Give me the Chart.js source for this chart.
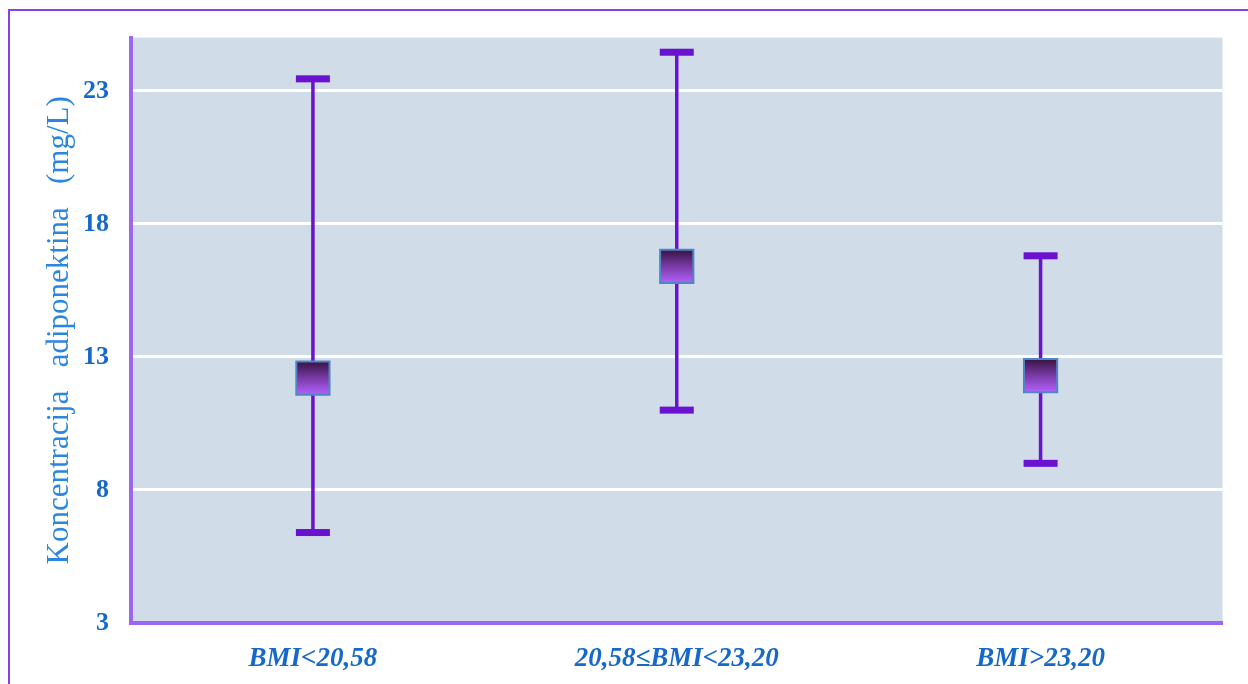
<!DOCTYPE html>
<html><head><meta charset="utf-8">
<script src="https://cdn.jsdelivr.net/npm/chart.js@4"></script>
<style>
html,body{margin:0;padding:0;background:#fff;width:1248px;height:684px;overflow:hidden;}
#frame{position:absolute;left:8px;top:9px;width:1300px;height:700px;border-top:2px solid #8a3ee6;border-left:2px solid #8a3ee6;}
#wrap{position:absolute;left:0;top:0;width:1248px;height:684px;}
</style></head>
<body>
<div id="frame"></div>
<div id="wrap"><canvas id="c" width="1248" height="684"></canvas></div>
<script>
const categories = ["BMI<20,58", "20,58\u2264BMI<23,20", "BMI>23,20"];
const means = [12.2, 16.4, 12.3];
const lowerValues = [6.4, 11.0, 9.0];
const upperValues = [23.45, 24.45, 16.8];
const yTicks = [3, 8, 13, 18, 23];
const yTitle = "Koncentracija   adiponektina   (mg/L)";

const textBlue = "#1668c9";
const errColor = "#6a12d0";

const bgPlugin = {
  id: 'bg',
  beforeDraw(chart) {
    const {ctx, chartArea: a} = chart;
    ctx.save();
    ctx.fillStyle = '#d0dce7';
    ctx.fillRect(a.left, a.top, a.right - a.left, a.bottom - a.top);
    ctx.restore();
  }
};

const errPlugin = {
  id: 'err',
  beforeDatasetsDraw(chart) {
    const {ctx} = chart;
    const xs = chart.scales.x, ys = chart.scales.y;
    ctx.save();
    ctx.strokeStyle = errColor;
    ctx.fillStyle = errColor;
    for (let i = 0; i < categories.length; i++) {
      const x = xs.getPixelForValue(i);
      const yl = ys.getPixelForValue(lowerValues[i]);
      const yu = ys.getPixelForValue(upperValues[i]);
      ctx.lineWidth = 3.5;
      ctx.beginPath(); ctx.moveTo(x, yl); ctx.lineTo(x, yu); ctx.stroke();
      const cw = 34, ch = 7;
      ctx.fillRect(x - cw/2, yu - ch/2, cw, ch);
      ctx.fillRect(x - cw/2, yl - ch/2, cw, ch);
    }
    ctx.restore();
  }
};

function markerFill(context) {
  const chart = context.chart;
  const ys = chart.scales.y;
  if (!ys || context.dataIndex === undefined) return '#8a4ad0';
  const v = means[context.dataIndex];
  const y = ys.getPixelForValue(v);
  if (!isFinite(y)) return '#8a4ad0';
  const g = chart.ctx.createLinearGradient(0, y - 16, 0, y + 16);
  g.addColorStop(0, '#3a1545');
  g.addColorStop(0.5, '#7a3aa8');
  g.addColorStop(1, '#b060f8');
  return g;
}

new Chart(document.getElementById('c'), {
  type: 'line',
  data: {
    labels: categories,
    datasets: [{
      data: means,
      showLine: false,
      pointStyle: 'rect',
      pointRadius: 23.5,
      pointHoverRadius: 23.5,
      pointBackgroundColor: markerFill,
      pointHoverBackgroundColor: markerFill,
      pointBorderColor: '#4f86c6',
      pointBorderWidth: 2,
      pointHoverBorderWidth: 2
    }]
  },
  options: {
    responsive: false,
    animation: false,
    events: [],
    layout: {padding: {top: 36, right: 24, left: 0, bottom: 0}},
    plugins: {legend: {display: false}, tooltip: {enabled: false}},
    scales: {
      x: {
        type: 'category',
        offset: true,
        grid: {display: false, drawTicks: false},
        border: {display: true, color: '#9b66f6', width: 4},
        ticks: {
          color: textBlue,
          padding: 20,
          font: {family: '"Liberation Serif", "Times New Roman", serif', size: 27, weight: 'bold', style: 'italic'}
        },
        afterFit(s) { s.height = 61; }
      },
      y: {
        min: 3, max: 25,
        afterBuildTicks(s) { s.ticks = yTicks.map(v => ({value: v})); },
        grid: {color: '#ffffff', lineWidth: 3, drawTicks: false},
        border: {display: true, color: '#9b66f6', width: 4},
        ticks: {
          color: textBlue,
          padding: 22,
          font: {family: '"Liberation Serif", "Times New Roman", serif', size: 26, weight: 'bold'}
        },
        title: {
          display: true,
          text: yTitle,
          color: '#2a86e0',
          font: {family: '"Liberation Serif", "Times New Roman", serif', size: 31},
          padding: {top: 41, bottom: 0}
        },
        afterFit(s) { s.width = 131; }
      }
    }
  },
  plugins: [bgPlugin, errPlugin]
});
</script>
</body></html>
